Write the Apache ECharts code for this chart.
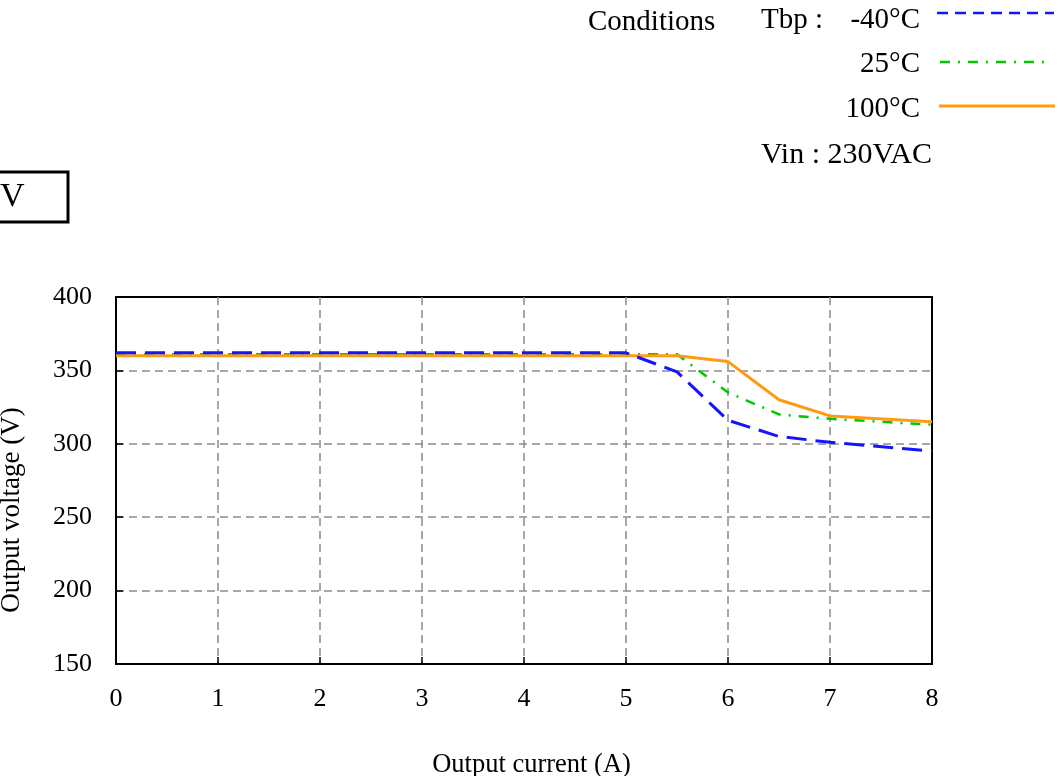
<!DOCTYPE html>
<html>
<head>
<meta charset="utf-8">
<script src="https://cdn.jsdelivr.net/npm/echarts@6/dist/echarts.min.js"></script>
<style>html,body{margin:0;padding:0;background:#fff;}#c{width:1058px;height:776px;}</style>
</head>
<body>
<div id="c"></div>
<script>
// Data
const currents = [0, 1, 2, 3, 4, 5, 5.5, 6, 6.5, 7, 8];
const vMinus40 = [362, 362, 362, 362, 362, 362, 349, 316, 305, 301, 295];
const v25 = [361, 361, 361, 361, 361, 361, 361, 335, 320, 317, 313];
const v100 = [360, 360, 360, 360, 360, 360, 360, 356, 330, 319, 315];
const seriesNames = ['-40°C', '25°C', '100°C'];
const xTicks = [0, 1, 2, 3, 4, 5, 6, 7, 8];
const yTicks = [150, 200, 250, 300, 350, 400];

const FONT = 'Liberation Serif';
const BLUE = '#1414ff', GREEN = '#00c800', ORANGE = '#ff9b12';

function pairs(ys) { return currents.map((x, i) => [x, ys[i]]); }

const chart = echarts.init(document.getElementById('c'));
chart.setOption({
  animation: false,
  backgroundColor: '#fff',
  grid: { left: 116, right: 126, top: 297, bottom: 112, outerBoundsMode: 'none', containLabel: false,
    show: true, borderColor: '#000', borderWidth: 2, backgroundColor: 'transparent' },
  xAxis: {
    type: 'value', min: xTicks[0], max: xTicks[xTicks.length - 1], interval: 1,
    name: 'Output current (A)', nameLocation: 'middle', nameGap: 88,
    nameTextStyle: { fontFamily: FONT, fontSize: 26.5, color: '#000', padding: [0, 0, 0, 15] },
    axisLine: { show: true, lineStyle: { color: '#000', width: 2 } },
    axisTick: { show: true, inside: true, length: 7, lineStyle: { color: '#000', width: 1.5 } },
    axisLabel: { margin: 22, fontFamily: FONT, fontSize: 26, color: '#000' },
    splitLine: { show: true, showMinLine: false, showMaxLine: false, lineStyle: { color: '#8c8c8c', width: 1.5, type: [8, 5] } }
  },
  yAxis: {
    type: 'value', min: yTicks[0], max: yTicks[yTicks.length - 1], interval: 50,
    axisLine: { show: true, lineStyle: { color: '#000', width: 2 } },
    axisTick: { show: true, inside: true, length: 7, lineStyle: { color: '#000', width: 1.5 } },
    axisLabel: { margin: 24, fontFamily: FONT, fontSize: 26, color: '#000' },
    splitLine: { show: true, showMinLine: false, showMaxLine: false, lineStyle: { color: '#8c8c8c', width: 1.5, type: [8, 5] } }
  },
  series: [
    { name: seriesNames[1], type: 'line', data: pairs(v25), showSymbol: false, z: 2,
      lineStyle: { color: GREEN, width: 2.5, type: [10, 8, 2, 8] } },
    { name: seriesNames[2], type: 'line', data: pairs(v100), showSymbol: false, z: 3,
      lineStyle: { color: ORANGE, width: 3 } },
    { name: seriesNames[0], type: 'line', data: pairs(vMinus40), showSymbol: false, z: 4,
      lineStyle: { color: BLUE, width: 3, type: [20, 9] } }
  ],
  graphic: [
    { type: 'text', left: 588, top: 8, style: { text: 'Conditions', font: '29px "' + FONT + '"', fill: '#000' } },
    { type: 'text', left: 761, top: 6, style: { text: 'Tbp :', font: '29px "' + FONT + '"', fill: '#000' } },
    { type: 'text', right: 138, top: 6, style: { text: seriesNames[0], font: '29px "' + FONT + '"', fill: '#000' } },
    { type: 'text', right: 138, top: 50, style: { text: seriesNames[1], font: '29px "' + FONT + '"', fill: '#000' } },
    { type: 'text', right: 138, top: 95, style: { text: seriesNames[2], font: '29px "' + FONT + '"', fill: '#000' } },
    { type: 'text', left: 761, top: 140, style: { text: 'Vin : 230VAC', font: '30px "' + FONT + '"', fill: '#000' } },
    { type: 'line', shape: { x1: 937, y1: 13, x2: 1054, y2: 13 }, style: { stroke: BLUE, lineWidth: 2.5, lineDash: [11, 7] } },
    { type: 'line', shape: { x1: 940, y1: 62, x2: 1048, y2: 62 }, style: { stroke: GREEN, lineWidth: 2.5, lineDash: [10, 8, 2, 8] } },
    { type: 'line', shape: { x1: 939, y1: 106, x2: 1055, y2: 106 }, style: { stroke: ORANGE, lineWidth: 3 } },
    { type: 'rect', shape: { x: -60, y: 172, width: 128, height: 50 }, style: { fill: 'none', stroke: '#000', lineWidth: 3 } },
    { type: 'text', left: 0, top: 180, style: { text: 'V', font: '34px "' + FONT + '"', fill: '#000' } },
    { type: 'text', x: 12, y: 510, rotation: Math.PI / 2, style: { text: 'Output voltage (V)', font: '27px "' + FONT + '"', fill: '#000', textAlign: 'center', textVerticalAlign: 'middle' } }
  ]
});
</script>
</body>
</html>
